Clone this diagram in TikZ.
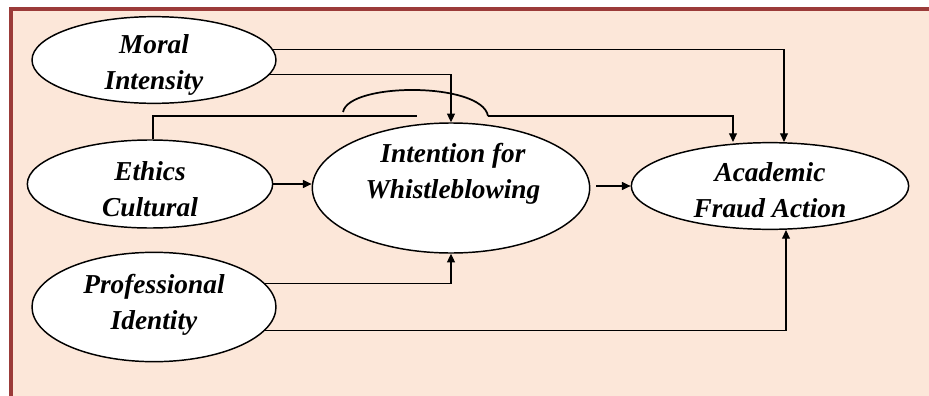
\documentclass[tikz,border=0pt]{standalone}
\usepackage{fontspec}
\setmainfont{Liberation Serif}
\usetikzlibrary{arrows.meta,shapes.geometric,calc}
\definecolor{framered}{HTML}{9B3B39}
\definecolor{panelfill}{HTML}{FCE7D9}
\tikzset{
  oval/.style={ellipse, draw=black, line width=1.1pt, fill=white, inner sep=0pt},
  lbl/.style={align=center, font=\fontsize{20.5}{27}\selectfont\bfseries\itshape, inner sep=0pt},
  conn/.style={draw=black, line width=0.8pt},
  arr/.style={conn, -{Triangle[length=6.5pt,width=6pt]}},
  hop/.style={draw=black, line width=1.3pt}
}
\begin{document}
\begin{tikzpicture}[x=0.75pt,y=-0.75pt]
\useasboundingbox (0,0) rectangle (929,396);
\fill[panelfill] (11,9) rectangle (929,396);
\draw[framered, line width=2.4pt] (11,396) -- (11,9) -- (929,9);

\node[oval, minimum width=183pt, minimum height=65pt] (mi) at (154,60) {};
\node[oval, minimum width=184pt, minimum height=66pt] (ec) at (150,184) {};
\node[oval, minimum width=183pt, minimum height=82pt] (pi) at (154,307) {};
\node[oval, minimum width=208pt, minimum height=97.5pt] (iw) at (451,188) {};
\node[oval, minimum width=208pt, minimum height=65pt] (af) at (770,186) {};

\node[lbl] (tmi) at (154,64.5) {Moral\\Intensity};
\node[lbl] (tec) at (150,189.5) {Ethics\\Cultural};
\node[lbl] (tpi) at (154,305) {Professional\\Identity};
\node[lbl] (tiw) at (453,174) {Intention for\\Whistleblowing};
\node[lbl] (taf) at (770,190.5) {Academic\\Fraud Action};

% Moral Intensity
\draw[arr] (mi.5) -| ([xshift=10.5pt]af.north);
\draw[arr] (mi.-7) -| (iw.north);
% Ethics Cultural
\coordinate (h1) at (417,116);
\coordinate (a1) at (343,112);
\coordinate (a2) at (488,116);
\draw[conn] ([xshift=2.25pt]ec.north) |- (h1);
\draw[hop] (a1) .. controls (349,82) and (482,82) .. (a2);
\draw[arr] (a2) -| ([xshift=-27.75pt]af.north);
\draw[arr] (ec.east) -- (ec.east -| iw.west);
% Intention -> Academic
\draw[arr] ($(iw.east |- af.west)+(4.5pt,0)$) -- (af.west);
% Professional Identity
\draw[arr] (pi.12) -| (iw.south);
\draw[arr] (pi.-12) -| ([xshift=12pt]af.south);
\end{tikzpicture}
\end{document}
